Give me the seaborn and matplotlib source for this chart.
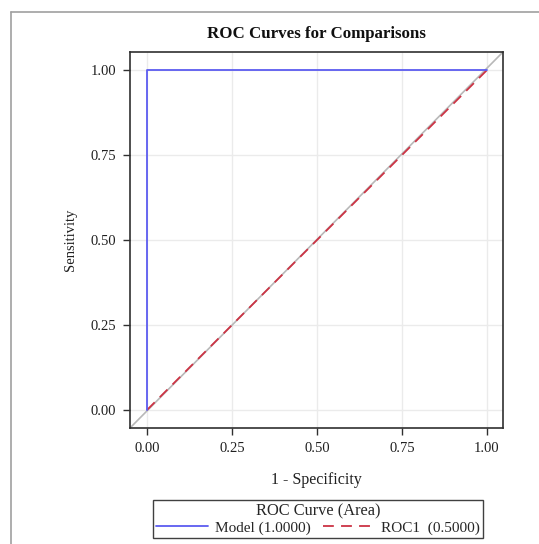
import matplotlib
matplotlib.use("Agg")
import matplotlib.pyplot as plt
import seaborn as sns
import pandas as pd
from matplotlib.lines import Line2D

# Data
model_fpr = [0.0, 0.0, 1.0]
model_tpr = [0.0, 1.0, 1.0]
roc1_fpr = [0.0, 1.0]
roc1_tpr = [0.0, 1.0]
model_label = "Model (1.0000)"
roc1_label = "ROC1  (0.5000)"
ticks = [0.0, 0.25, 0.5, 0.75, 1.0]
tick_labels = ["0.00", "0.25", "0.50", "0.75", "1.00"]

sns.set_theme(style="white")
plt.rcParams['font.family'] = ['Liberation Serif', 'DejaVu Serif']

fig = plt.figure(figsize=(5.39, 5.44), dpi=100)
ax = fig.add_axes([130/539, 1-428/544, (503-130)/539, (428-52)/544])

# Outer frame lines
fig.add_artist(Line2D([11/539, 11/539], [0, 1-12/544], transform=fig.transFigure, color="#a0a0a0", lw=1.2))
fig.add_artist(Line2D([11/539, 1], [1-12/544, 1-12/544], transform=fig.transFigure, color="#a0a0a0", lw=1.2))

xmin, xmax = -0.05, 1.047
ymin, ymax = -0.053, 1.053
ax.set_xlim(xmin, xmax)
ax.set_ylim(ymin, ymax)

# Grid
for t in ticks:
    ax.axvline(t, color="#ebebeb", lw=1, zorder=0)
    ax.axhline(t, color="#ebebeb", lw=1, zorder=0)

# Reference diagonal across axes
ax.plot([0, 1], [0, 1], transform=ax.transAxes, color="#b8b8b8", lw=1.2, zorder=1)

df_model = pd.DataFrame({"fpr": model_fpr, "tpr": model_tpr})
df_roc1 = pd.DataFrame({"fpr": roc1_fpr, "tpr": roc1_tpr})
sns.lineplot(data=df_model, x="fpr", y="tpr", sort=False, estimator=None, ax=ax,
             color="#5c5cf0", lw=1.3, label=model_label, zorder=3)
sns.lineplot(data=df_roc1, x="fpr", y="tpr", sort=False, estimator=None, ax=ax,
             color="#cc3344", lw=1.3, label=roc1_label, zorder=2)
ax.lines[-1].set_dashes((6, 4))

ax.set_xticks(ticks)
ax.set_xticklabels(tick_labels)
ax.set_yticks(ticks)
ax.set_yticklabels(tick_labels)
ax.tick_params(axis="both", direction="out", length=5, width=1, color="#303030",
               labelsize=10.5, labelcolor="#202020", bottom=True, left=True, pad=5)
for s in ax.spines.values():
    s.set_color("#303030")
    s.set_linewidth(1.2)

ax.set_xlabel("1 - Specificity", fontsize=11.5, color="#202020", labelpad=12)
ax.set_ylabel("Sensitivity", fontsize=10.5, color="#202020", labelpad=10)
ax.set_title("ROC Curves for Comparisons", fontsize=12.2, fontweight="bold", color="#101010", pad=10)

handles, labels = ax.get_legend_handles_labels()
ax.get_legend().remove()
leg = fig.legend(handles, labels, loc="center", bbox_to_anchor=(318/539, 1-519/544), ncol=2,
                 title="ROC Curve (Area)", fontsize=11, title_fontsize=11.8, frameon=True,
                 fancybox=False, framealpha=1, edgecolor="#404040", handlelength=3.4,
                 columnspacing=0.8, borderpad=0.2, labelspacing=0.1, handletextpad=0.45,
                 borderaxespad=0)
leg.get_frame().set_linewidth(1.0)

fig.savefig("out.png", dpi=100)
